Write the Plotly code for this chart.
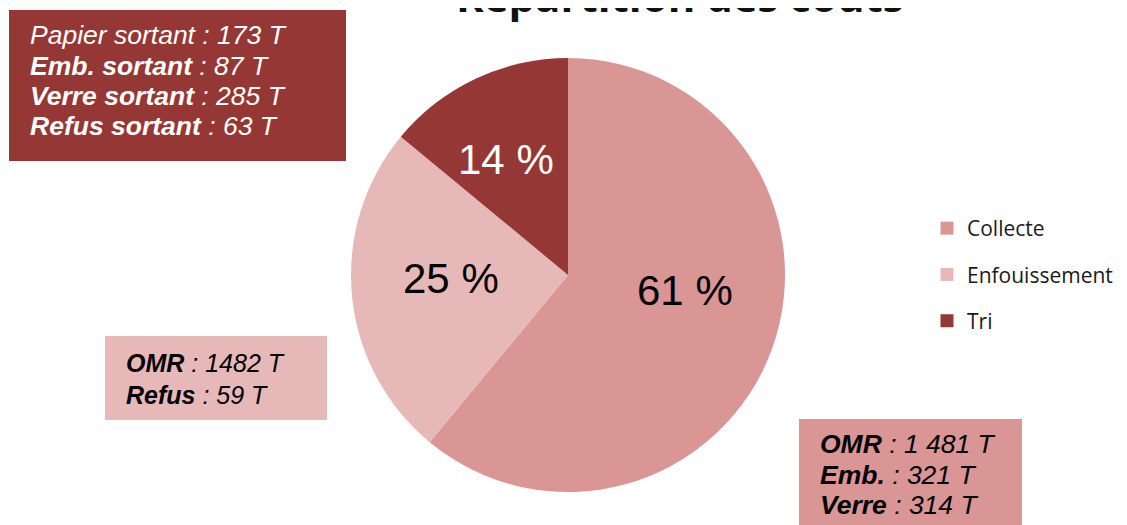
import plotly.graph_objects as go

W, H = 1127, 525
OFF = 8  # page offset of the plot inside the browser window

categories = ["Collecte", "Enfouissement", "Tri"]
shares = [61, 25, 14]
slice_colors = ["#D99694", "#E6B9B8", "#953735"]
label_colors = ["black", "black", "white"]

title_text = "Répartition des coûts"

box_tri = ["<i>Papier sortant : 173 T</i>",
           "<b><i>Emb. sortant</i></b><i> : 87 T</i>",
           "<b><i>Verre sortant</i></b><i> : 285 T</i>",
           "<b><i>Refus sortant</i></b><i> : 63 T</i>"]
box_enf = ["<b><i>OMR</i></b><i> : 1482 T</i>",
           "<b><i>Refus</i></b><i> : 59 T</i>"]
box_col = ["<b><i>OMR</i></b><i> : 1 481 T</i>",
           "<b><i>Emb.</i></b><i> : 321 T</i>",
           "<b><i>Verre</i></b><i> : 314 T</i>"]


def px(x):
    return (x - OFF) / W


def py(y):
    return 1 - (y - OFF) / H


# layout positions (window pixels)
label_pos = [(685, 290), (451, 278), (506, 159)]
pie_cx, pie_cy, pie_r = 568, 275, 217

fig = go.Figure()

fig.add_trace(go.Pie(
    labels=categories,
    values=shares,
    sort=False,
    direction="clockwise",
    rotation=0,
    marker=dict(colors=slice_colors, line=dict(width=0)),
    textinfo="none",
    showlegend=False,
    hoverinfo="label+percent",
    domain=dict(x=[px(pie_cx - pie_r), px(pie_cx + pie_r)],
                y=[py(pie_cy + pie_r), py(pie_cy - pie_r)]),
))

# legend entries
for name, col in zip(categories, slice_colors):
    fig.add_trace(go.Scatter(
        x=[None], y=[None], mode="markers", name=name, legendgroup=name,
        marker=dict(symbol="square", size=13, color=col),
    ))

fig.update_xaxes(visible=False)
fig.update_yaxes(visible=False)

shapes = [
    dict(type="rect", xref="paper", yref="paper", x0=px(9), x1=px(346), y0=py(161), y1=py(10),
         fillcolor="#953735", line=dict(width=0), layer="above"),
    dict(type="rect", xref="paper", yref="paper", x0=px(105), x1=px(327), y0=py(420), y1=py(336),
         fillcolor="#E6B9B8", line=dict(width=0), layer="above"),
    dict(type="rect", xref="paper", yref="paper", x0=px(799), x1=px(1022), y0=py(540), y1=py(419),
         fillcolor="#D99694", line=dict(width=0), layer="above"),
]

box_font = "Liberation Sans, Arial"
annotations = []


def add_lines(lines, x, baselines, size, color):
    for txt, b in zip(lines, baselines):
        annotations.append(dict(
            text=txt, x=px(x), y=py(b - 0.35 * size), xref="paper", yref="paper",
            xanchor="left", yanchor="middle", align="left", showarrow=False, borderpad=0,
            font=dict(family=box_font, size=size, color=color)))


add_lines(box_tri, 29, [44, 75, 105, 135], 26.5, "white")
add_lines(box_enf, 125, [372, 404], 25, "black")
add_lines(box_col, 819, [453, 484, 514], 26.5, "black")

# pie percentage labels
for v, (lx, ly), c in zip(shares, label_pos, label_colors):
    annotations.append(dict(
        text=f"{v} %", x=px(lx), y=py(ly), xref="paper", yref="paper",
        xanchor="center", yanchor="middle", showarrow=False, borderpad=0,
        font=dict(family="Liberation Sans, Arial", size=42, color=c)))

# title (cut at the top edge as in the reference)
annotations.append(dict(
    text="<b>" + title_text + "</b>", x=px(680), y=py(25), xref="paper", yref="paper",
    xanchor="center", yanchor="bottom", showarrow=False, borderpad=0,
    font=dict(family="Open Sans", size=42, color="#111111")))

fig.update_layout(
    width=W, height=H,
    margin=dict(l=0, r=0, t=0, b=0),
    paper_bgcolor="white",
    plot_bgcolor="white",
    shapes=shapes,
    annotations=annotations,
    legend=dict(x=px(927), y=py(208), xanchor="left", yanchor="top",
                font=dict(family="Open Sans", size=21, color="#1a1a1a"),
                tracegroupgap=16, bgcolor="rgba(0,0,0,0)"),
)

fig.write_html("out.html")
